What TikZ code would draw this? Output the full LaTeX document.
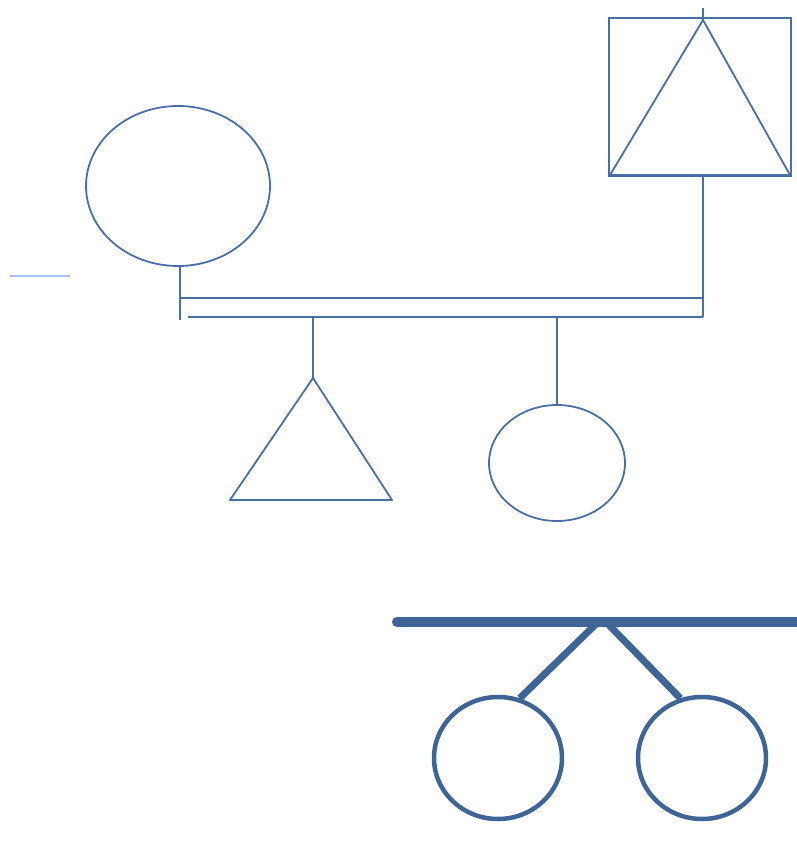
\documentclass[tikz,border=0pt]{standalone}
\usetikzlibrary{shapes.geometric}
\definecolor{pedblue}{HTML}{4A6FA5}
\definecolor{pedfaint}{HTML}{A9C4E8}
\definecolor{peddark}{HTML}{3F6597}
\begin{document}
\begin{tikzpicture}[x=1pt,y=-1pt,
  thinln/.style={draw=pedblue,line width=1.8pt},
  ellnode/.style={ellipse,draw=pedblue,line width=1.8pt,inner sep=0pt},
  boldcirc/.style={ellipse,draw=peddark,line width=4.5pt,inner sep=0pt}]
\useasboundingbox (0,0) rectangle (797,841);
% top right square with triangle
\node[draw=pedblue,line width=1.8pt,minimum width=182pt,minimum height=158pt,inner sep=0pt] (sq) at (700,97) {};
\coordinate (tapex) at (703,20);
\coordinate (tbl) at (610,175);
\coordinate (tbr) at (790,175);
\draw[thinln,line join=round] (tapex) -- (tbl) -- (tbr) -- cycle;
\coordinate (sqtop) at (703,8);
\draw[thinln] (sqtop) -- (tapex);
% left ellipse
\node[ellnode,minimum width=184pt,minimum height=160pt] (mother) at (178,186) {};
\coordinate (mdrop) at (180,320);
\draw[thinln] (mother.south) ++(2,0) -- (mdrop);
% faint line
\coordinate (fa) at (10,276);
\coordinate (fb) at (70,276);
\draw[draw=pedfaint,line width=1.2pt] (fa) -- (fb);
% double marriage line
\coordinate (dl1) at (180,298);
\coordinate (dr1) at (703,298);
\coordinate (dl2) at (188,317);
\coordinate (dr2) at (703,317);
\draw[thinln] (dl1) -- (dr1);
\draw[thinln] (dl2) -- (dr2);
\draw[thinln] (sq.south -| tapex) -- (dr2);
% child triangle
\coordinate (c1top) at (313,317);
\coordinate (c1apex) at (313,378);
\coordinate (c1bl) at (230,500);
\coordinate (c1br) at (392,500);
\draw[thinln] (c1top) -- (c1apex);
\draw[thinln,line join=round] (c1apex) -- (c1bl) -- (c1br) -- cycle;
% child ellipse
\node[ellnode,minimum width=136pt,minimum height=116pt] (daughter) at (557,463) {};
\coordinate (c2top) at (557,317);
\draw[thinln] (c2top) -- (daughter.north);
% bottom twins
\coordinate (bl) at (397,622);
\coordinate (br) at (800,622);
\draw[draw=peddark,line width=10pt,line cap=round] (bl) -- (br);
\node[boldcirc,minimum width=128pt,minimum height=122pt] (twinA) at (498,758) {};
\node[boldcirc,minimum width=128pt,minimum height=122pt] (twinB) at (702,758) {};
\coordinate (apexA) at (596,624);
\coordinate (apexB) at (608,624);
\draw[draw=peddark,line width=7pt] (apexA) -- (twinA.70);
\draw[draw=peddark,line width=7pt] (apexB) -- (twinB.110);
\end{tikzpicture}
\end{document}
